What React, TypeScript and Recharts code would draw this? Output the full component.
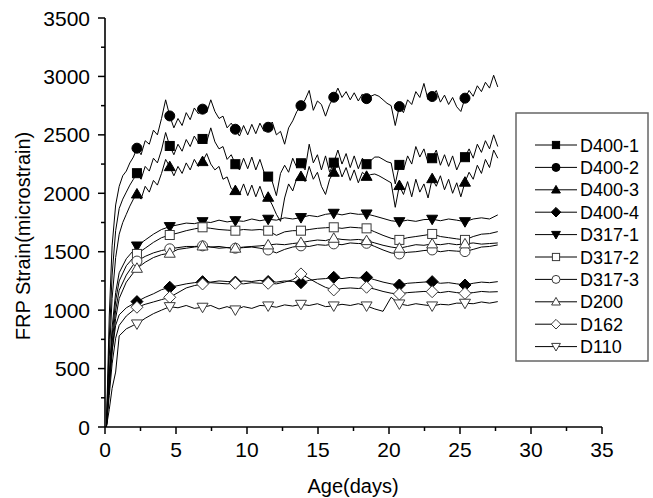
import React from 'react';
import { LineChart, Line, XAxis, YAxis } from 'recharts';

// Sampling times (days). Gauges on the D400 group were logged twice as often.
const fineDays = [
  0.1, 0.3, 0.5, 0.75, 1.0, 1.25, 1.5, 1.75, 2.0,
  2.25, 2.54, 2.83, 3.12, 3.41, 3.69, 3.98, 4.27,
  4.56, 4.85, 5.14, 5.43, 5.72, 6.0, 6.29, 6.58,
  6.87, 7.16, 7.45, 7.74, 8.03, 8.31, 8.6, 8.89,
  9.18, 9.47, 9.76, 10.05, 10.34, 10.62, 10.91, 11.2,
  11.49, 11.78, 12.07, 12.36, 12.65, 12.93, 13.22, 13.51,
  13.8, 14.09, 14.38, 14.67, 14.96, 15.24, 15.53, 15.82,
  16.11, 16.4, 16.69, 16.98, 17.27, 17.55, 17.84, 18.13,
  18.42, 18.71, 19.0, 19.29, 19.58, 19.86, 20.15, 20.44,
  20.73, 21.02, 21.31, 21.6, 21.89, 22.17, 22.46, 22.75,
  23.04, 23.33, 23.62, 23.91, 24.2, 24.48, 24.77, 25.06,
  25.35, 25.64, 25.93, 26.22, 26.51, 26.79, 27.08, 27.37,
  27.66,
];

const coarseDays = [
  0.1, 0.3, 0.5, 0.75, 1.0, 1.5, 2.0,
  2.25, 2.83, 3.41, 3.98,
  4.56, 5.14, 5.72, 6.29,
  6.87, 7.45, 8.03, 8.6,
  9.18, 9.76, 10.34, 10.91,
  11.49, 12.07, 12.65, 13.22,
  13.8, 14.38, 14.96, 15.53,
  16.11, 16.69, 17.27, 17.84,
  18.42, 19.0, 19.58, 20.15,
  20.73, 21.31, 21.89, 22.46,
  23.04, 23.62, 24.2, 24.77,
  25.35, 25.93, 26.51, 27.08,
  27.66,
];

// symbols are plotted only on these readings
const markerDays = [2.25, 4.56, 6.87, 9.18, 11.49, 13.8, 16.11, 18.42, 20.73, 23.04, 25.35];

const xTicks = [0, 2.5, 5, 7.5, 10, 12.5, 15, 17.5, 20, 22.5, 25, 27.5, 30, 32.5, 35];
const yTicks = [0, 250, 500, 750, 1000, 1250, 1500, 1750, 2000, 2250, 2500, 2750, 3000, 3250, 3500];

// microstrain readings
const d4001 = [
  0, 750, 1300, 1680, 1870, 1950, 2010, 2070, 2120,
  2172, 2120, 2230, 2190, 2300, 2260, 2370, 2520,
  2405, 2330, 2420, 2360, 2460, 2400, 2490, 2430,
  2465, 2440, 2560, 2440, 2380, 2400, 2290, 2330,
  2249, 2200, 2300, 2210, 2310, 2200, 2290, 2180,
  2143, 2100, 1980, 2170, 2240, 2180, 2300, 2220,
  2257, 2200, 2420, 2260, 2330, 2200, 2320, 2180,
  2262, 2370, 2250, 2340, 2220, 2320, 2210, 2300,
  2249, 2280, 2310, 2310, 2290, 2270, 2260, 2080,
  2243, 2200, 2320, 2250, 2400, 2310, 2380, 2260,
  2300, 2370, 2240, 2330, 2230, 2320, 2200, 2280,
  2309, 2380, 2300, 2420, 2350, 2450, 2380, 2500,
  2400,
];

const d4002 = [
  0, 950, 1550, 1900, 2060, 2150, 2190, 2260, 2310,
  2386, 2330, 2450, 2420, 2540, 2500, 2640, 2800,
  2662, 2560, 2640, 2580, 2690, 2630, 2730, 2680,
  2720, 2690, 2800, 2700, 2640, 2660, 2560, 2600,
  2548, 2490, 2580, 2500, 2590, 2510, 2600, 2530,
  2565, 2610, 2500, 2530, 2420, 2560, 2620, 2700,
  2750, 2800, 2880, 2710, 2790, 2760, 2660, 2760,
  2822, 2900, 2820, 2870, 2800, 2860, 2790, 2850,
  2810, 2830, 2845, 2830, 2800, 2770, 2750, 2580,
  2742, 2690, 2800, 2760, 2870, 2820, 2940, 2800,
  2828, 2880, 2780, 2840, 2760, 2820, 2740, 2700,
  2814, 2880, 2830, 2920, 2870, 2950, 2900, 3010,
  2910,
];

const d4003 = [
  0, 600, 1100, 1450, 1650, 1750, 1820, 1890, 1950,
  1994, 1950, 2060, 2010, 2110, 2070, 2170, 2290,
  2228, 2150, 2230, 2170, 2260, 2200, 2290, 2230,
  2271, 2340, 2250, 2200, 2230, 2120, 2140, 2040,
  2023, 1990, 2080, 1980, 2070, 1970, 2060, 1960,
  1966, 1900, 1820, 1760, 1960, 2080, 2020, 2130,
  2143, 2100, 2230, 2120, 2180, 2060, 1990, 2120,
  2180, 2260, 2140, 2220, 2110, 2200, 2090, 2180,
  2145, 2160, 2165, 2150, 2130, 2110, 2090, 1880,
  2066, 1990, 2100, 1970, 2120, 2010, 2080, 1960,
  2125, 2060, 2150, 2030, 2120, 2000, 2090, 1970,
  2095, 2180, 2120, 2240, 2170, 2290, 2220, 2370,
  2300,
];

const d4004 = [
  0, 350, 650, 870, 960, 1020, 1055,
  1073, 1110, 1140, 1175,
  1196, 1210, 1225, 1235,
  1244, 1240, 1250, 1245,
  1240, 1250, 1245, 1255,
  1245, 1240, 1250, 1245,
  1235, 1255, 1265, 1270,
  1281, 1270, 1280, 1275,
  1281, 1260, 1240, 1225,
  1215, 1230, 1235, 1240,
  1244, 1230, 1235, 1225,
  1215, 1230, 1240, 1235,
  1244,
];

const d3171 = [
  0, 450, 850, 1150, 1320, 1440, 1510,
  1549, 1600, 1650, 1690,
  1715, 1730, 1745, 1740,
  1757, 1750, 1770, 1755,
  1766, 1760, 1780, 1765,
  1778, 1770, 1790, 1780,
  1792, 1810, 1800, 1820,
  1829, 1815, 1830, 1820,
  1823, 1805, 1785, 1765,
  1757, 1770, 1760, 1775,
  1778, 1765, 1780, 1770,
  1757, 1780, 1790, 1780,
  1815,
];

const d3172 = [
  0, 400, 780, 1080, 1250, 1380, 1450,
  1481, 1530, 1580, 1620,
  1643, 1660, 1680, 1695,
  1709, 1700, 1690, 1685,
  1680, 1690, 1685, 1690,
  1680, 1640, 1670, 1680,
  1680, 1690, 1700, 1705,
  1709, 1700, 1710, 1705,
  1700, 1670, 1640, 1615,
  1601, 1620, 1630, 1640,
  1652, 1630, 1620, 1610,
  1601, 1630, 1650, 1655,
  1672,
];

const d3173 = [
  0, 380, 720, 1000, 1170, 1300, 1390,
  1420, 1460, 1490, 1510,
  1525, 1535, 1545, 1545,
  1550, 1540, 1545, 1535,
  1530, 1535, 1540, 1530,
  1515, 1490, 1520, 1540,
  1550, 1545, 1560, 1555,
  1567, 1560, 1575, 1570,
  1572, 1545, 1515, 1490,
  1481, 1495, 1500, 1510,
  1515, 1500, 1510, 1505,
  1501, 1520, 1540, 1545,
  1558,
];

const d200 = [
  0, 330, 650, 930, 1100, 1240, 1320,
  1358, 1410, 1450, 1475,
  1487, 1520, 1530, 1540,
  1549, 1540, 1530, 1535,
  1530, 1540, 1545, 1550,
  1558, 1565, 1560, 1570,
  1578, 1590, 1600, 1595,
  1615, 1605, 1600, 1605,
  1595, 1575, 1555, 1540,
  1530, 1545, 1560, 1555,
  1567, 1560, 1570, 1560,
  1567, 1575, 1565, 1570,
  1575,
];

const d162 = [
  0, 270, 540, 760, 870, 950, 1000,
  1025, 1050, 1070, 1090,
  1110, 1150, 1190, 1210,
  1224, 1235, 1230, 1225,
  1230, 1225, 1235, 1230,
  1230, 1225, 1240, 1260,
  1310, 1270, 1230, 1195,
  1173, 1185, 1190, 1185,
  1196, 1180, 1160, 1145,
  1138, 1150, 1155, 1160,
  1158, 1150, 1160, 1150,
  1144, 1150, 1160, 1155,
  1158,
];

const d110 = [
  0, 150, 330, 470, 780, 840, 870,
  882, 930, 970, 1000,
  1030, 1020, 1040, 1015,
  1025, 1040, 1010, 1030,
  1002, 1030, 1015, 1040,
  1036, 1025, 1045, 1035,
  1050, 1040, 1055, 1030,
  1036, 1050, 1040, 1055,
  1036, 1010, 990, 1110,
  1053, 1040, 1055, 1045,
  1036, 1050, 1045, 1060,
  1059, 1055, 1070, 1060,
  1073,
];

type Shape = 'square' | 'circle' | 'up' | 'diamond' | 'down';

interface Series {
  name: string;
  days: number[];
  values: number[];
  shape: Shape;
  filled: boolean;
}

const series: Series[] = [
  { name: 'D400-1', days: fineDays, values: d4001, shape: 'square', filled: true },
  { name: 'D400-2', days: fineDays, values: d4002, shape: 'circle', filled: true },
  { name: 'D400-3', days: fineDays, values: d4003, shape: 'up', filled: true },
  { name: 'D400-4', days: coarseDays, values: d4004, shape: 'diamond', filled: true },
  { name: 'D317-1', days: coarseDays, values: d3171, shape: 'down', filled: true },
  { name: 'D317-2', days: coarseDays, values: d3172, shape: 'square', filled: false },
  { name: 'D317-3', days: coarseDays, values: d3173, shape: 'circle', filled: false },
  { name: 'D200', days: coarseDays, values: d200, shape: 'up', filled: false },
  { name: 'D162', days: coarseDays, values: d162, shape: 'diamond', filled: false },
  { name: 'D110', days: coarseDays, values: d110, shape: 'down', filled: false },
];

const FONT = 'Arial, "Liberation Sans", Helvetica, sans-serif';

const Marker: React.FC<{ shape: Shape; filled: boolean; cx: number; cy: number; s?: number }> = ({
  shape,
  filled,
  cx,
  cy,
  s = 1,
}) => {
  const paint = {
    fill: filled ? '#000' : '#fff',
    stroke: filled ? '#000' : '#3a3a3a',
    strokeWidth: 1,
  };
  switch (shape) {
    case 'square':
      return <rect x={cx - 4.5 * s} y={cy - 4.5 * s} width={9 * s} height={9 * s} {...paint} />;
    case 'circle':
      return <circle cx={cx} cy={cy} r={5 * s} {...paint} />;
    case 'up':
      return (
        <polygon
          points={`${cx},${cy - 5.5 * s} ${cx + 5.5 * s},${cy + 4 * s} ${cx - 5.5 * s},${cy + 4 * s}`}
          {...paint}
        />
      );
    case 'down':
      return (
        <polygon
          points={`${cx},${cy + 5.5 * s} ${cx + 5.5 * s},${cy - 4 * s} ${cx - 5.5 * s},${cy - 4 * s}`}
          {...paint}
        />
      );
    default:
      return (
        <polygon
          points={`${cx},${cy - 6 * s} ${cx + 6 * s},${cy} ${cx},${cy + 6 * s} ${cx - 6 * s},${cy}`}
          {...paint}
        />
      );
  }
};

const isMarkerDay = (day: number) => markerDays.some((d) => Math.abs(d - day) < 0.02);

const makeDot = (s: Series) => (props: any) => {
  const { cx, cy, payload, index } = props;
  const key = `${s.name}-${index}`;
  if (cx == null || cy == null || !isMarkerDay(payload.day)) return <g key={key} />;
  return (
    <g key={key}>
      <Marker shape={s.shape} filled={s.filled} cx={cx} cy={cy} />
    </g>
  );
};

const YTick = ({ x, y, payload }: any) => {
  const major = payload.value % 500 === 0;
  return (
    <g>
      <line x1={x - (major ? 7 : 4)} x2={x} y1={y} y2={y} stroke="#000" strokeWidth={1.5} />
      {major && (
        <text x={x - 15} y={y + 7.5} textAnchor="end" fontSize={21} fontFamily={FONT} fill="#000">
          {payload.value}
        </text>
      )}
    </g>
  );
};

const XTick = ({ x, y, payload }: any) => {
  const major = payload.value % 5 === 0;
  return (
    <g>
      <line x1={x} x2={x} y1={y} y2={y + (major ? 7 : 4)} stroke="#000" strokeWidth={1.5} />
      {major && (
        <text x={x} y={y + 30} textAnchor="middle" fontSize={21} fontFamily={FONT} fill="#000">
          {payload.value}
        </text>
      )}
    </g>
  );
};

const Legend: React.FC = () => (
  <g>
    <rect x={516} y={113} width={132} height={248} fill="#fff" stroke="#666" strokeWidth={1.5} />
    {series.map((s, i) => {
      const cy = 145 + i * 22.4;
      return (
        <g key={s.name}>
          <line x1={535} x2={577} y1={cy} y2={cy} stroke="#000" strokeWidth={1} />
          <Marker shape={s.shape} filled={s.filled} cx={556} cy={cy} s={0.8} />
          <text x={580} y={cy + 6.5} fontSize={18} fontFamily={FONT} fill="#000">
            {s.name}
          </text>
        </g>
      );
    })}
  </g>
);

export default function App() {
  return (
    <div style={{ position: 'relative', width: 653, height: 498, background: '#fff' }}>
      <style>{'body{margin:0;background:#fff}'}</style>
      <LineChart width={653} height={498} margin={{ top: 18, right: 51, bottom: 0, left: 0 }}>
        <XAxis
          type="number"
          dataKey="day"
          domain={[0, 35]}
          ticks={xTicks}
          interval={0}
          height={71}
          tickSize={0}
          tickMargin={0}
          tickLine={false}
          axisLine={{ stroke: '#000', strokeWidth: 1.6 }}
          tick={<XTick />}
          allowDuplicatedCategory={false}
        />
        <YAxis
          type="number"
          domain={[0, 3500]}
          ticks={yTicks}
          interval={0}
          width={105}
          tickSize={0}
          tickMargin={0}
          tickLine={false}
          axisLine={{ stroke: '#000', strokeWidth: 1.6 }}
          tick={<YTick />}
        />
        {series.map((s) => (
          <Line
            key={s.name}
            data={s.days.map((d, i) => ({ day: d, v: s.values[i] }))}
            dataKey="v"
            type="linear"
            stroke="#000"
            strokeWidth={1}
            dot={makeDot(s)}
            activeDot={false}
            isAnimationActive={false}
          />
        ))}
      </LineChart>
      <svg
        width={653}
        height={498}
        style={{ position: 'absolute', left: 0, top: 0, pointerEvents: 'none' }}
      >
        <text
          transform="translate(30,236) rotate(-90)"
          textAnchor="middle"
          fontSize={20}
          fontFamily={FONT}
          fill="#000"
        >
          FRP Strain(microstrain)
        </text>
        <text x={353} y={493} textAnchor="middle" fontSize={20} fontFamily={FONT} fill="#000">
          Age(days)
        </text>
        <Legend />
      </svg>
    </div>
  );
}
